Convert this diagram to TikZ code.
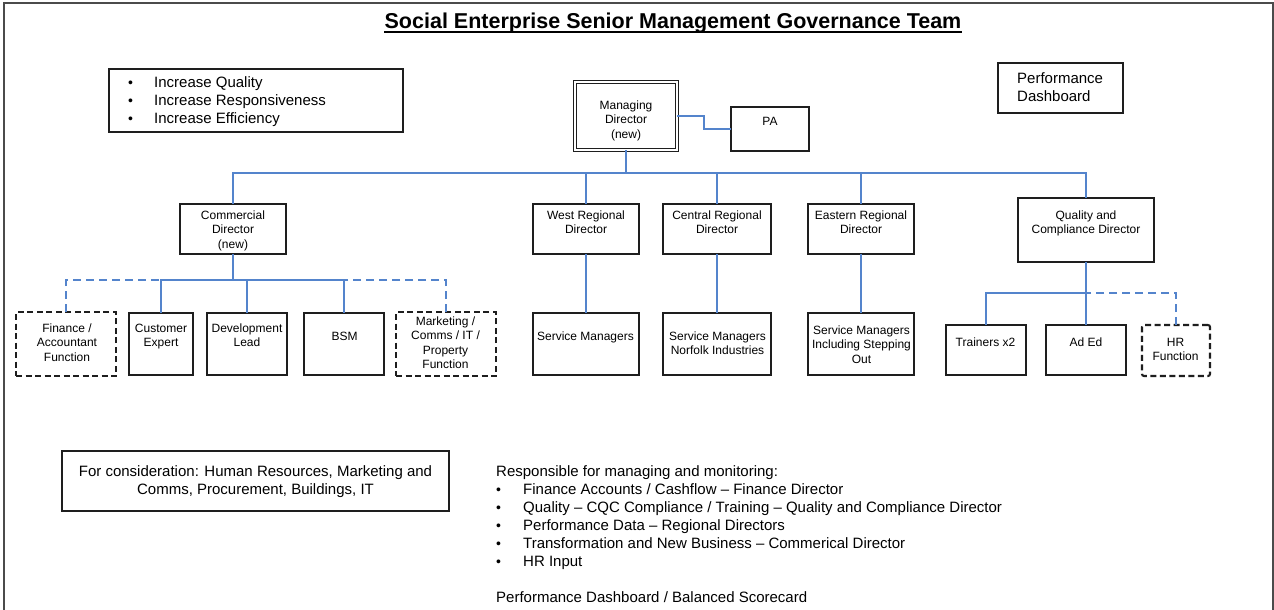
\documentclass[tikz,border=0pt]{standalone}
\usepackage{fontspec}
\setmainfont{Liberation Sans}
\definecolor{boxc}{RGB}{30,30,30}
\definecolor{linkc}{RGB}{84,132,204}
\definecolor{framec}{RGB}{75,75,75}
\newcommand\bul[1][26pt]{\makebox[#1][l]{\fontsize{14}{18}\selectfont •}}
\begin{document}
\begin{tikzpicture}[x=1pt,y=-1pt,
  box/.style={draw=boxc, line width=1.3pt, inner sep=0pt, outer sep=0pt, fill=white},
  dbox/.style={box, line width=2.1pt, dash pattern=on 6pt off 3.5pt},
  sz/.style 2 args={minimum width=#1pt, minimum height=#2pt},
  link/.style={draw=linkc, line width=1.4pt},
  dlink/.style={link, dash pattern=on 8pt off 5pt},
  lbl/.style={inner sep=0pt, align=center, anchor=base, font=\fontsize{12}{14.5}\selectfont},
  big/.style={inner sep=0pt, align=left, anchor=base west, font=\fontsize{15}{18}\selectfont},
]
\useasboundingbox (0,0) rectangle (1274,610);
\fill[white] (0,0) rectangle (1274,610);

% outer frame
\draw[framec, line width=2pt] (4,612) -- (4,3) -- (1273,3) -- (1273,612);

% title (text anchors below sit on the baseline of the last text line)
\node[inner sep=0pt, anchor=base, font=\fontsize{21.5}{24}\selectfont\bfseries] (title) at (673,29) {Social Enterprise Senior Management Governance Team};
\draw[line width=1.3pt] ([yshift=-3pt]title.base west) -- ([yshift=-3pt]title.base east);

% aims box
\node[box, sz={294}{63}] (aims) at (256,100.5) {};
\node[big] (aimstxt) at (128,123) {\bul Increase Quality\\ \bul Increase Responsiveness\\ \bul Increase Efficiency};

% performance dashboard
\node[box, sz={125}{50}] (perf) at (1060.5,88) {};
\node[big] (perftxt) at (1017,101) {Performance\\Dashboard};

% managing director and PA
\node[box, sz={102}{68}, line width=1.1pt, double, double distance=2.2pt] (md) at (626,116) {};
\node[lbl] (mdtxt) at (626,138) {Managing\\Director\\(new)};
\node[box, sz={78}{44}] (pa) at (770,129) {};
\node[lbl] (patxt) at (770,125) {PA};

% directors
\node[box, sz={106}{50}] (cd) at (233,229) {};
\node[lbl] (cdtxt) at (233,248) {Commercial\\Director\\(new)};
\node[box, sz={106}{50}] (wrd) at (586,229) {};
\node[lbl] (wrdtxt) at (586,233.5) {West Regional\\Director};
\node[box, sz={108}{50}] (crd) at (717,229) {};
\node[lbl] (crdtxt) at (717,233.5) {Central Regional\\Director};
\node[box, sz={106}{50}] (erd) at (861,229) {};
\node[lbl] (erdtxt) at (861,233.5) {Eastern Regional\\Director};
\node[box, sz={136}{64}] (qcd) at (1086,230) {};
\node[lbl] (qcdtxt) at (1086,233.5) {Quality and\\Compliance Director};

% commercial team
\node[dbox, sz={100}{64}] (fin) at (66,344) {};
\node[lbl] (fintxt) at (67,361) {Finance /\\Accountant\\Function};
\node[box, sz={64}{62}] (cust) at (161,344) {};
\node[lbl] (custtxt) at (161,346.5) {Customer\\Expert};
\node[box, sz={80}{62}] (dev) at (247,344) {};
\node[lbl] (devtxt) at (247,346.5) {Development\\Lead};
\node[box, sz={80}{62}] (bsm) at (344,344) {};
\node[lbl] (bsmtxt) at (344.5,340) {BSM};
\node[dbox, sz={100}{64}] (mkt) at (446,344) {};
\node[lbl] (mkttxt) at (445.5,368.5) {Marketing /\\Comms / IT /\\Property\\Function};

% regional service managers
\node[box, sz={106}{62}] (smw) at (586,344) {};
\node[lbl] (smwtxt) at (585.5,340) {Service Managers};
\node[box, sz={108}{62}] (smc) at (717,344) {};
\node[lbl] (smctxt) at (717.5,354.5) {Service Managers\\Norfolk Industries};
\node[box, sz={106}{62}] (sme) at (861,344) {};
\node[lbl] (smetxt) at (861.5,363) {Service Managers\\Including Stepping\\Out};

% quality team
\node[box, sz={80}{50}] (trn) at (986,350) {};
\node[lbl] (trntxt) at (985.5,346) {Trainers x2};
\node[box, sz={80}{50}] (aded) at (1086,350) {};
\node[lbl] (adedtxt) at (1086,346) {Ad Ed};
\node[dbox, sz={68}{51}, rounded corners=2pt] (hr) at (1176,350.5) {};
\node[lbl] (hrtxt) at (1175.5,360.5) {HR\\Function};

% notes
\node[box, sz={387}{60}] (cons) at (255.5,481) {};
\node[lbl, font=\fontsize{15}{18}\selectfont] (constxt) at (255.5,494) {For consideration: Human Resources, Marketing and\\Comms, Procurement, Buildings, IT};
\node[big] (resp) at (496,602) {Responsible for managing and monitoring:\\
  \bul[27pt]Finance Accounts / Cashflow -- Finance Director\\
  \bul[27pt]Quality -- CQC Compliance / Training -- Quality and Compliance Director\\
  \bul[27pt]Performance Data -- Regional Directors\\
  \bul[27pt]Transformation and New Business -- Commerical Director\\
  \bul[27pt]HR Input\\[18pt]
  Performance Dashboard / Balanced Scorecard};

% connectors
\coordinate (bus) at (626,173);
\coordinate (cbus) at (233,280);
\coordinate (qbus) at (1086,293);

\draw[link] (md.east) -- ++(27,0) |- (pa.west);
\draw[link] (md.south) -- (bus);
\foreach \n in {cd,wrd,crd,erd,qcd} \draw[link] (\n.north) |- (bus);

\draw[dlink] (fin.north) |- (cbus);
\draw[dlink] (mkt.north) |- (cbus);
\draw[link] (cd.south) -- (cbus);
\foreach \n in {cust,dev,bsm} \draw[link] (\n.north) |- (cbus);

\draw[link] (wrd.south) -- (smw.north);
\draw[link] (crd.south) -- (smc.north);
\draw[link] (erd.south) -- (sme.north);

\draw[link] (qcd.south) -- (qbus);
\draw[link] (trn.north) |- (qbus);
\draw[link] (aded.north) -- (qbus);
\draw[dlink] (hr.north) |- (qbus);
\end{tikzpicture}
\end{document}
